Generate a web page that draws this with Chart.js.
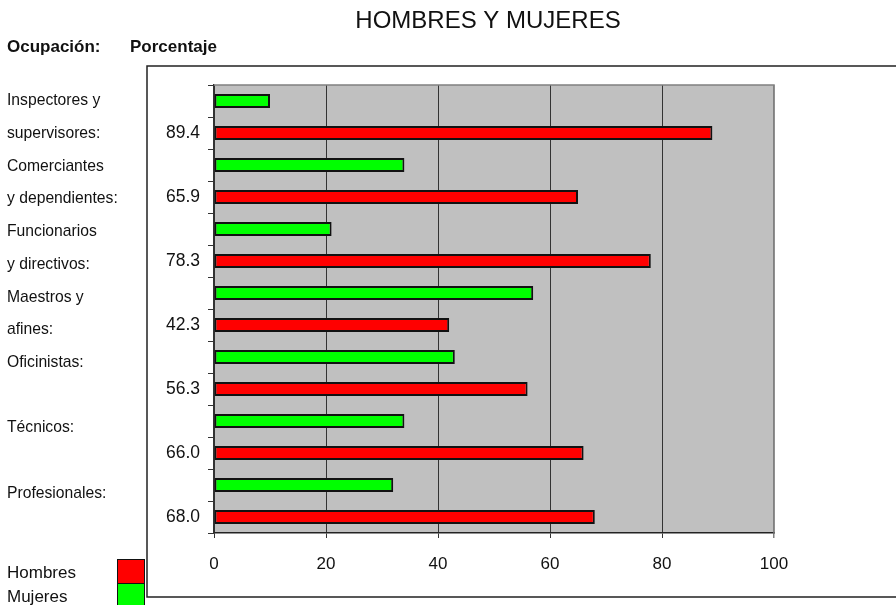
<!DOCTYPE html>
<html>
<head>
<meta charset="utf-8">
<script src="https://cdn.jsdelivr.net/npm/chart.js@4/dist/chart.umd.min.js"></script>
<style>
  body { margin: 0; background: #fff; }
  #wrap { width: 896px; height: 605px; position: relative; }
</style>
</head>
<body>
<div id="wrap"><canvas id="grafico"></canvas></div>
<script>
// datos
var textoOcupacion = ['Inspectores y', 'supervisores:', 'Comerciantes', 'y dependientes:',
   'Funcionarios', 'y directivos:', 'Maestros y', 'afines:', 'Oficinistas:', '',
   'Técnicos:', '', 'Profesionales:'];
var etiquetasHombres = ['89.4', '65.9', '78.3', '42.3', '56.3', '66.0', '68.0'];
var hombres = [89, 65, 78, 42, 56, 66, 68];
var mujeres = [10, 34, 21, 57, 43, 34, 32];
var leyenda = ['Hombres', 'Mujeres'];

var FUENTE = "'Liberation Sans', Arial, sans-serif";

// cada ocupacion ocupa dos filas: mujeres arriba, hombres abajo
var filas = [], datosM = [], datosH = [];
for (var i = 0; i < hombres.length; i++) {
   filas.push('', etiquetasHombres[i]);
   datosM.push(mujeres[i], null);
   datosH.push(null, hombres[i]);
}

var decorado = {
   id: 'decorado',
   beforeDraw: function (chart) {
      var ctx = chart.ctx, a = chart.chartArea;
      ctx.save();
      ctx.fillStyle = '#ffffff';
      ctx.fillRect(0, 0, chart.width, chart.height);
      // marco exterior
      ctx.strokeStyle = '#222';
      ctx.lineWidth = 1.5;
      ctx.beginPath();
      ctx.moveTo(chart.width + 5, 66);
      ctx.lineTo(147, 66);
      ctx.lineTo(147, 597);
      ctx.lineTo(chart.width + 5, 597);
      ctx.stroke();
      ctx.fillStyle = '#c0c0c0';
      ctx.fillRect(a.left, a.top, a.right - a.left, a.bottom - a.top);
      ctx.restore();
   },
   afterDraw: function (chart) {
      var ctx = chart.ctx, a = chart.chartArea;
      ctx.save();
      ctx.strokeStyle = '#808080';
      ctx.lineWidth = 1.5;
      ctx.beginPath();
      ctx.moveTo(a.left, a.top);
      ctx.lineTo(a.right, a.top);
      ctx.lineTo(a.right, a.bottom);
      ctx.stroke();

      ctx.fillStyle = '#111';
      ctx.textBaseline = 'alphabetic';
      ctx.textAlign = 'center';
      ctx.font = '24px ' + FUENTE;
      ctx.fillText('HOMBRES Y MUJERES', 488, 28);

      ctx.textAlign = 'left';
      ctx.font = 'bold 17px ' + FUENTE;
      ctx.fillText('Ocupación:', 7, 52);
      ctx.fillText('Porcentaje', 130, 52);

      ctx.textBaseline = 'middle';
      ctx.font = '15.7px ' + FUENTE;
      for (var j = 0; j < textoOcupacion.length; j++) {
         ctx.fillText(textoOcupacion[j], 7, 101 + j * 32.7);
      }

      // leyenda
      var colores = [chart.data.datasets[1].backgroundColor, chart.data.datasets[0].backgroundColor];
      ctx.font = '17px ' + FUENTE;
      for (var k = 0; k < leyenda.length; k++) {
         ctx.fillStyle = '#111';
         ctx.fillText(leyenda[k], 7, 573 + k * 24);
         ctx.fillStyle = colores[k];
         ctx.fillRect(117, 559 + k * 24, 27, 24);
         ctx.strokeStyle = '#111';
         ctx.lineWidth = 1;
         ctx.strokeRect(117.5, 559.5 + k * 24, 27, 24);
      }
      ctx.restore();
   }
};

var chart = new Chart(document.getElementById('grafico'), {
   type: 'bar',
   data: {
      labels: filas,
      datasets: [{
         label: 'Mujeres',
         data: datosM,
         backgroundColor: '#00ff00',
         borderColor: '#111',
         borderWidth: 2,
         borderSkipped: false,
         grouped: false,
         barPercentage: 0.44,
         categoryPercentage: 1
      }, {
         label: 'Hombres',
         data: datosH,
         backgroundColor: '#ff0000',
         borderColor: '#111',
         borderWidth: 2,
         borderSkipped: false,
         grouped: false,
         barPercentage: 0.44,
         categoryPercentage: 1
      }]
   },
   options: {
      indexAxis: 'y',
      responsive: true,
      maintainAspectRatio: false,
      animation: false,
      layout: { padding: { left: 0, top: 85, right: 122, bottom: 0 } },
      plugins: {
         legend: { display: false },
         tooltip: { enabled: false }
      },
      scales: {
         x: {
            min: 0,
            max: 100,
            ticks: {
               stepSize: 20,
               padding: 16,
               color: '#111',
               font: { family: FUENTE, size: 17 }
            },
            grid: {
               color: function (c) { return c.tick && c.tick.value === 100 ? '#808080' : '#333'; },
               lineWidth: function (c) { return c.tick && c.tick.value === 100 ? 1.5 : 1; },
               tickLength: 5
            },
            border: { color: '#222', width: 1.5 },
            afterFit: function (s) { s.height = 72; }
         },
         y: {
            ticks: {
               autoSkip: false,
               padding: 8,
               color: '#111',
               font: { family: FUENTE, size: 17.5 }
            },
            grid: {
               drawOnChartArea: false,
               color: '#333',
               tickLength: 6
            },
            border: { color: '#333', width: 1.5 },
            afterFit: function (s) { s.width = 214; }
         }
      }
   },
   plugins: [decorado]
});
</script>
</body>
</html>
